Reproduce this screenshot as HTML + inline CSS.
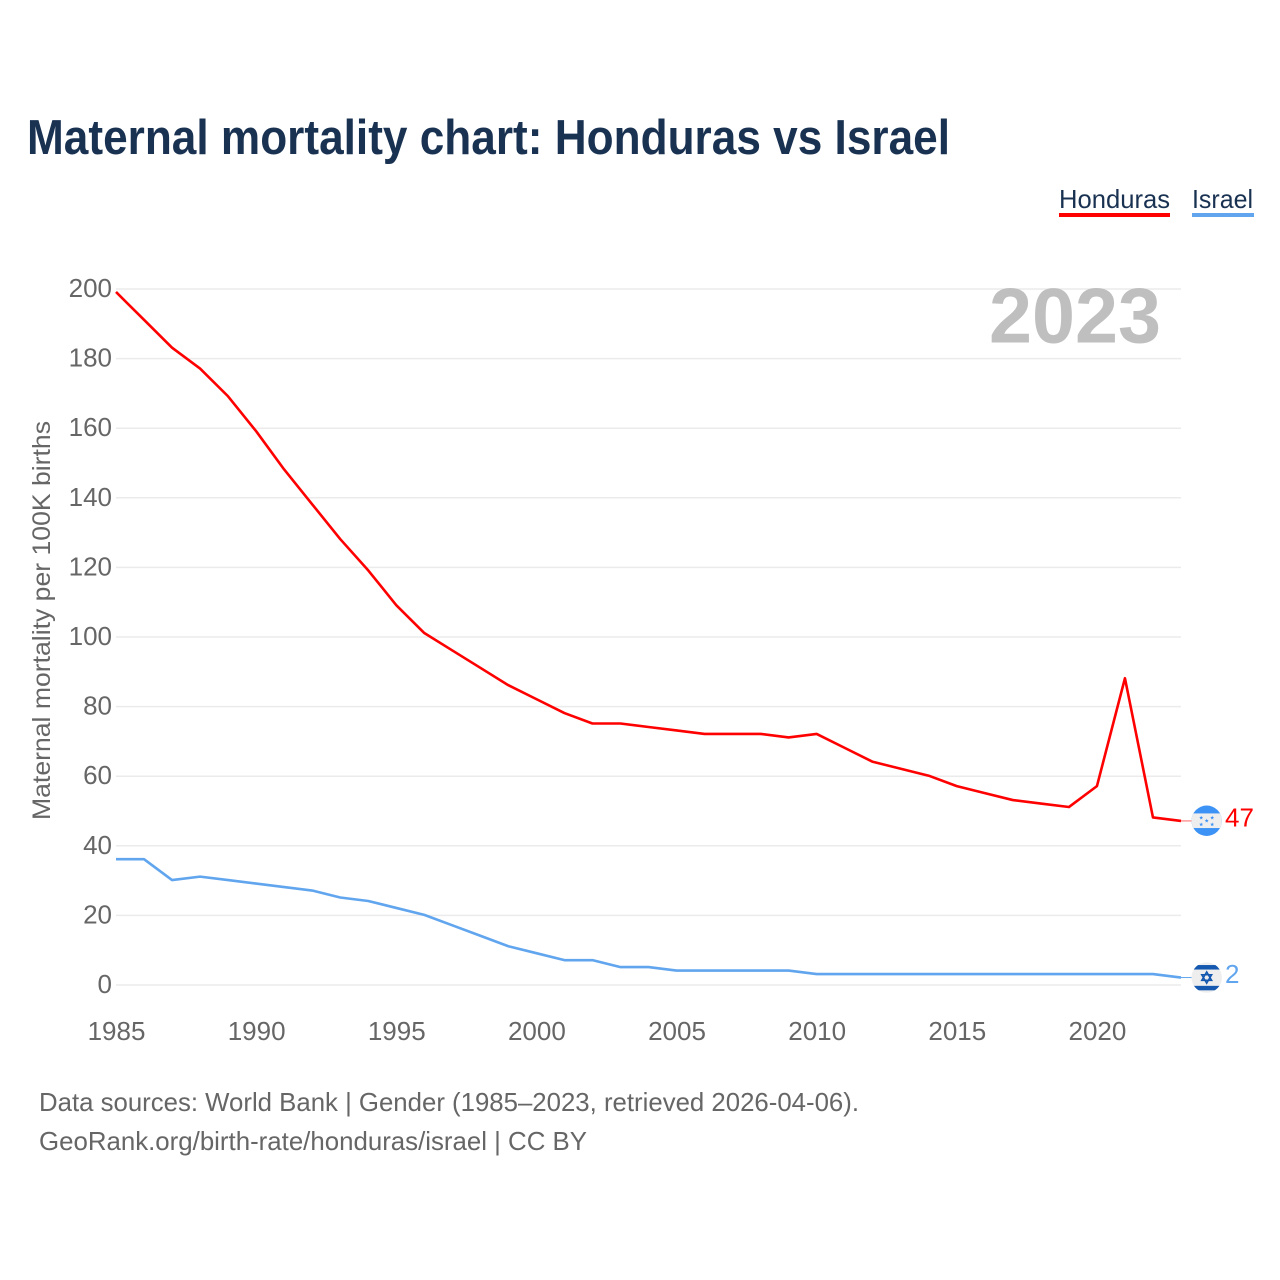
<!DOCTYPE html>
<html lang="en">
<head>
<meta charset="utf-8">
<title>Maternal mortality chart: Honduras vs Israel</title>
<style>
html,body{margin:0;padding:0;background:#fff;width:1280px;height:1280px;overflow:hidden}
svg{display:block;font-family:"Liberation Sans",sans-serif}
</style>
</head>
<body>
<svg id="chart" width="1280" height="1280" viewBox="0 0 1280 1280" xmlns="http://www.w3.org/2000/svg">
  <defs>
    <clipPath id="flag-clip"><circle cx="0" cy="0" r="15.2"/></clipPath>
  </defs>
  <text x="27" y="154" font-size="49" font-weight="700" fill="#1a3252" textLength="923" lengthAdjust="spacingAndGlyphs">Maternal mortality chart: Honduras vs Israel</text>

  <g>
    <text x="1059" y="208" font-size="26" fill="#1a3252" textLength="111" lengthAdjust="spacingAndGlyphs">Honduras</text>
    <rect x="1059" y="213" width="111" height="4" fill="#ff0000"/>
  </g>
  <g>
    <text x="1192" y="208" font-size="26" fill="#1a3252" textLength="61" lengthAdjust="spacingAndGlyphs">Israel</text>
    <rect x="1192" y="213" width="62" height="4" fill="#60a5ee"/>
  </g>

  <g id="grid"></g>
  <g id="yticks"></g>
  <g id="xticks"></g>

  <text x="989" y="342.5" font-size="78" font-weight="700" fill="#bfbfbf" textLength="172" lengthAdjust="spacingAndGlyphs">2023</text>

  <text transform="translate(50,820) rotate(-90)" x="0" y="0" font-size="25" fill="#666666" textLength="399" lengthAdjust="spacingAndGlyphs">Maternal mortality per 100K births</text>

  <g id="series" transform="translate(0,-0.5)"></g>
  <g id="ends"></g>

  <text x="39" y="1111" font-size="26" fill="#666666" textLength="820" lengthAdjust="spacingAndGlyphs">Data sources: World Bank | Gender (1985–2023, retrieved 2026-04-06).</text>
  <text x="39" y="1150" font-size="26" fill="#666666" textLength="548" lengthAdjust="spacingAndGlyphs">GeoRank.org/birth-rate/honduras/israel | CC BY</text>
</svg>
<script>
const years = [1985,1986,1987,1988,1989,1990,1991,1992,1993,1994,1995,1996,1997,1998,1999,2000,2001,2002,2003,2004,2005,2006,2007,2008,2009,2010,2011,2012,2013,2014,2015,2016,2017,2018,2019,2020,2021,2022,2023];
const hondurasValues = [199,191,183,177,169,159,148,138,128,119,109,101,96,91,86,82,78,75,75,74,73,72,72,72,71,72,68,64,62,60,57,55,53,52,51,57,88,48,47];
const israelValues = [36,36,30,31,30,29,28,27,25,24,22,20,17,14,11,9,7,7,5,5,4,4,4,4,4,3,3,3,3,3,3,3,3,3,3,3,3,3,2];
const yTickValues = [0,20,40,60,80,100,120,140,160,180,200];
const xTickValues = [1985,1990,1995,2000,2005,2010,2015,2020];

const NS = 'http://www.w3.org/2000/svg';
const xScale = function (year) { return 116 + (year - 1985) * (1181 - 116) / (2023 - 1985); };
const yScale = function (value) { return 985 - value * (985 - 289) / 200; };
const make = function (tag, attrs, parent) {
  const el = document.createElementNS(NS, tag);
  Object.keys(attrs).forEach(function (k) { el.setAttribute(k, attrs[k]); });
  parent.appendChild(el);
  return el;
};

const grid = document.getElementById('grid');
const yticks = document.getElementById('yticks');
const xticks = document.getElementById('xticks');
const series = document.getElementById('series');
const ends = document.getElementById('ends');

yTickValues.forEach(function (v) {
  const line = make('line', {x1: 116, x2: 1181, y1: yScale(v), y2: yScale(v), stroke: '#ebebeb', 'stroke-width': 1.5}, grid);
  
  
  const label = make('text', {x: 112, y: yScale(v) + 8, 'text-anchor': 'end', 'font-size': 26, fill: '#666666'}, yticks);
  label.textContent = String(v);
  
  
});

xTickValues.forEach(function (t) {
  const label = make('text', {x: xScale(t) + 0.5, y: 1040, 'text-anchor': 'middle', 'font-size': 26, fill: '#666666'}, xticks);
  label.textContent = String(t);
  
  
});

const pathFor = function (values) {
  return values.map(function (v, i) {
    return (i ? 'L' : 'M') + xScale(years[i]).toFixed(2) + ' ' + yScale(v).toFixed(2);
  }).join(' ');
};

const israelLine = make('path', {d: pathFor(israelValues), fill: 'none', stroke: '#60a5ee', 'stroke-width': 2.6, 'stroke-linejoin': 'round'}, series);



const hondurasLine = make('path', {d: pathFor(hondurasValues), fill: 'none', stroke: '#ff0000', 'stroke-width': 2.6, 'stroke-linejoin': 'round'}, series);



const star = function (cx, cy, r, fill, parent) {
  const pts = [];
  for (let i = 0; i < 10; i++) {
    const a = -Math.PI / 2 + i * Math.PI / 5;
    const rad = i % 2 ? r * 0.42 : r;
    pts.push((cx + rad * Math.cos(a)).toFixed(2) + ',' + (cy + rad * Math.sin(a)).toFixed(2));
  }
  return make('polygon', {points: pts.join(' '), fill: fill}, parent);
};

const lastH = hondurasValues[hondurasValues.length - 1];
const lastI = israelValues[israelValues.length - 1];
const hy = yScale(lastH);
const iy = yScale(lastI);

/* Honduras end marker */
const hConn = make('line', {x1: 1181, y1: hy - 0.5, x2: 1192, y2: hy - 0.5, stroke: '#ff6666', 'stroke-width': 1}, ends);



const hFlag = make('g', {transform: 'translate(1206.7,' + (hy - 0.7) + ')', 'clip-path': 'url(#flag-clip)'}, ends);


make('rect', {x: -16, y: -16, width: 32, height: 32, fill: '#3d92f5'}, hFlag);
make('rect', {x: -16, y: -7.3, width: 32, height: 14.6, fill: '#eeeeee'}, hFlag);
star(0, 0, 2.1, '#3d92f5', hFlag);
star(-5.5, -3, 2.1, '#3d92f5', hFlag);
star(5.5, -3, 2.1, '#3d92f5', hFlag);
star(-5.5, 3.7, 2.1, '#3d92f5', hFlag);
star(5.5, 3.7, 2.1, '#3d92f5', hFlag);

const hLabel = make('text', {x: 1225, y: hy + 5, 'font-size': 26, fill: '#ff0000'}, ends);
hLabel.textContent = String(lastH);



/* Israel end marker */
const iConn = make('line', {x1: 1181, y1: iy - 0.5, x2: 1192, y2: iy - 0.5, stroke: '#60a5ee', 'stroke-width': 1}, ends);



const iFlag = make('g', {transform: 'translate(1206.7,' + (iy - 0.5) + ')', 'clip-path': 'url(#flag-clip)'}, ends);


make('rect', {x: -16, y: -16, width: 32, height: 32, fill: '#eeeeee'}, iFlag);
make('rect', {x: -16, y: -12.5, width: 32, height: 4.5, fill: '#1558b0'}, iFlag);
make('rect', {x: -16, y: 8.3, width: 32, height: 4.5, fill: '#1558b0'}, iFlag);
make('polygon', {points: '0,-5.6 4.9,2.8 -4.9,2.8', fill: 'none', stroke: '#1558b0', 'stroke-width': 1.6}, iFlag);
make('polygon', {points: '0,5.6 4.9,-2.8 -4.9,-2.8', fill: 'none', stroke: '#1558b0', 'stroke-width': 1.6}, iFlag);

const iLabel = make('text', {x: 1225, y: iy + 5, 'font-size': 26, fill: '#60a5ee'}, ends);
iLabel.textContent = String(lastI);


</script>
</body>
</html>
